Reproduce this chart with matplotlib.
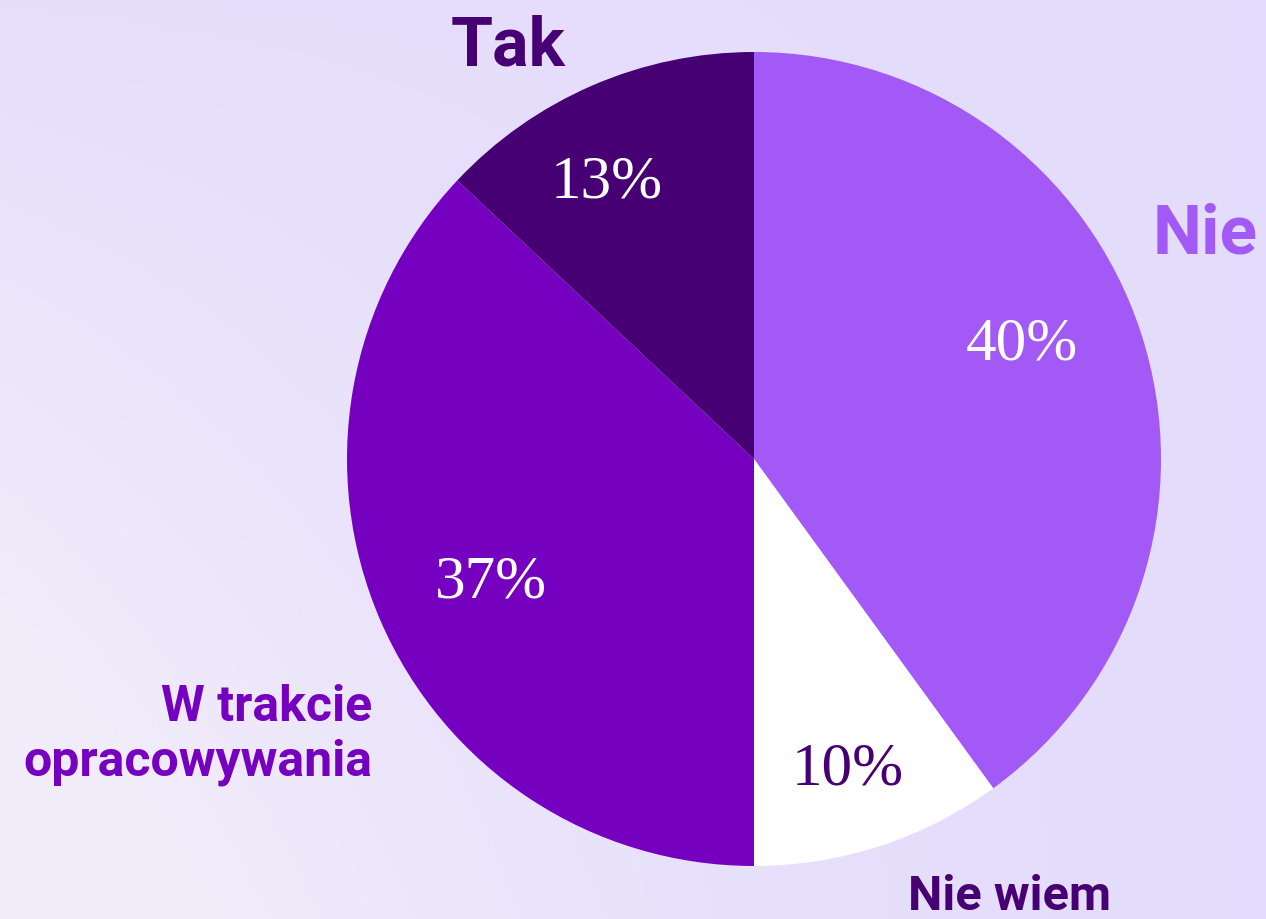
import numpy as np
import matplotlib.pyplot as plt
from matplotlib.colors import LinearSegmentedColormap

# ---------------------------
# Dados
# ---------------------------
categorias = ["Nie", "Nie wiem", "W trakcie\nopracowywania", "Tak"]
valores = [40, 10, 37, 13]
rotulos_pct = ["40%", "10%", "37%", "13%"]
cores = ["#A259F6", "#FFFFFF", "#7500C0", "#460073"]
cores_pct = ["white", "#460073", "white", "white"]

# ---------------------------
# Figura (coordenadas em pixels)
# ---------------------------
W, H = 1266, 920
fig = plt.figure(figsize=(W / 100, H / 100), dpi=100)
ax = fig.add_axes([0, 0, 1, 1])

# fundo em gradiente lavanda
yy, xx = np.mgrid[0:1:200j, 0:1:200j]
grad = np.clip(1.3 * (1 - xx) ** 2 * (1 - yy) + 0.15 * (1 - xx), 0, 1)
cmap_bg = LinearSegmentedColormap.from_list("bg", ["#E4DCFC", "#F1ECFA"])
ax.imshow(grad, cmap=cmap_bg, extent=(0, W, 0, H), origin="lower",
          aspect="auto", zorder=0, vmin=0, vmax=1)

cx, cy, r = 754, H - 460, 407
wedges, _ = ax.pie(valores, colors=cores, startangle=90, counterclock=False,
                   center=(cx, cy), radius=r, frame=True,
                   wedgeprops=dict(linewidth=0))
for w in wedges:
    w.set_zorder(2)
ax.set_xlim(0, W)
ax.set_ylim(0, H)
ax.set_aspect("auto")
ax.axis("off")

# percentuais dentro das fatias
pos_pct = [(1022, 345), (848, 770), (491, 583), (607, 183)]
for (px, py), txt, c in zip(pos_pct, rotulos_pct, cores_pct):
    ax.text(px, H - py, txt, ha="center", va="center", fontsize=44,
            color=c, family="Liberation Serif", zorder=3)

# rótulos das categorias
ax.text(508, H - 47, categorias[3], ha="center", va="center", fontsize=49,
        fontweight="bold", color="#460073", family="Roboto", zorder=3)
ax.text(1258, H - 235, categorias[0], ha="right", va="center", fontsize=50,
        fontweight="bold", color="#A259F6", family="Roboto", zorder=3)
ax.text(372, H - 735, categorias[2], ha="right", va="center", fontsize=36,
        fontweight="bold", color="#7500C0", family="Roboto", zorder=3,
        linespacing=1.18)
ax.text(1009, H - 897, categorias[1], ha="center", va="center", fontsize=35,
        fontweight="bold", color="#460073", family="Roboto", zorder=3)

fig.savefig("out.png", dpi=100)
